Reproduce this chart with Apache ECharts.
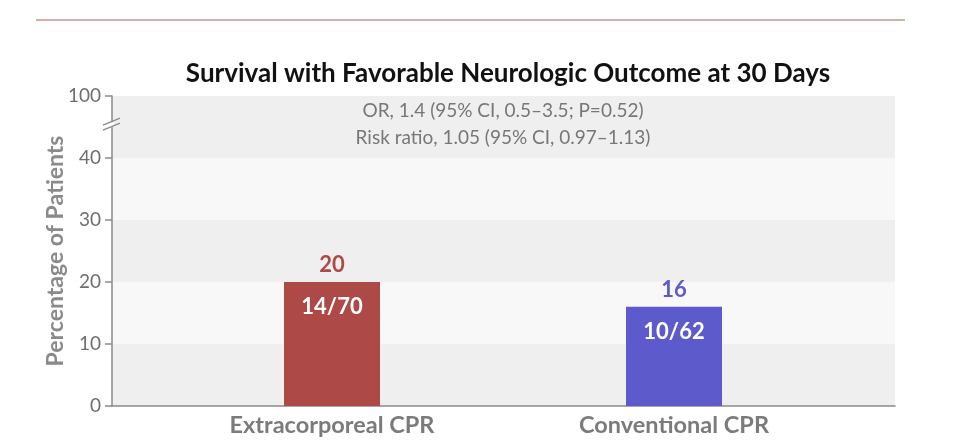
<!DOCTYPE html>
<html lang="en">
<head>
    <meta charset="UTF-8">
    <title>Survival with Favorable Neurologic Outcome at 30 Days</title>
    <script type="text/javascript" src="https://cdn.jsdelivr.net/npm/echarts@6/dist/echarts.min.js"></script>
    <style>
        html, body { margin: 0; padding: 0; background: #ffffff; }
        #container { width: 964px; height: 446px; }
    </style>
</head>
<body>
    <div id="container"></div>
    <script>
        // chart data
        var groups = ['Extracorporeal CPR', 'Conventional CPR'];
        var percents = [20, 16];
        var fractions = ['14/70', '10/62'];
        var barColors = ['#ad4a47', '#5d5bcb'];
        // the top band (40-50 on the drawn scale) stands for the broken part up to 100
        var yTickValues = [0, 10, 20, 30, 40, 50];
        var yTickLabels = ['0', '10', '20', '30', '40', '100'];
        var statLines = ['OR, 1.4 (95% CI, 0.5\u20133.5; P=0.52)', 'Risk ratio, 1.05 (95% CI, 0.97\u20131.13)'];

        var font = 'Lato, "Open Sans", sans-serif';
        var grey = '#8a8a8a';

        var dom = document.getElementById('container');
        var myChart = echarts.init(dom, null, { renderer: 'canvas' });

        var option = {
            animation: false,
            title: {
                text: 'Survival with Favorable Neurologic Outcome at 30 Days',
                left: 503,
                textAlign: 'center',
                top: 56,
                textStyle: { fontFamily: font, fontSize: 26, fontWeight: 'bold', color: '#111' }
            },
            grid: [
                { left: 112, right: 69, top: 96, bottom: 40 },
                { left: 161, right: 119, top: 96, bottom: 40 }
            ],
            xAxis: [
                {
                    gridIndex: 0, type: 'category', data: [''],
                    axisLine: { lineStyle: { color: grey, width: 1.5 } },
                    axisTick: { show: false }, axisLabel: { show: false }
                },
                {
                    gridIndex: 1, type: 'category', data: groups,
                    axisLine: { show: false }, axisTick: { show: false },
                    axisLabel: {
                        margin: 7, fontFamily: font, fontSize: 23.5, fontWeight: 'bold', color: '#7b7b7b'
                    }
                }
            ],
            yAxis: [
                {
                    gridIndex: 0, type: 'value', min: 0, max: 50, interval: 10,
                    name: 'Percentage of Patients', nameLocation: 'middle', nameGap: 45,
                    nameMoveOverlap: false,
                    nameTextStyle: { fontFamily: font, fontSize: 23, fontWeight: 'bold', color: '#8a8a8a' },
                    axisLine: { show: true, lineStyle: { color: grey, width: 1.5 } },
                    axisTick: { show: true, length: 7, lineStyle: { color: grey, width: 1.5 } },
                    axisLabel: {
                        margin: 11, fontFamily: font, fontSize: 19, color: '#6f6f6f',
                        formatter: function (v) { return yTickLabels[yTickValues.indexOf(v)]; }
                    },
                    splitLine: { show: false },
                    splitArea: { show: true, areaStyle: { color: ['#efefef', '#f8f8f8'] } }
                },
                {
                    gridIndex: 1, type: 'value', min: 0, max: 50, interval: 10, show: false,
                    splitLine: { show: false }
                }
            ],
            series: [
                {
                    type: 'bar', xAxisIndex: 1, yAxisIndex: 1, barWidth: 96,
                    data: percents.map(function (v, i) {
                        return { value: v, itemStyle: { color: barColors[i] },
                                 label: { color: barColors[i] } };
                    }),
                    label: {
                        show: true, position: 'top', distance: 6,
                        fontFamily: font, fontSize: 22, fontWeight: 'bold'
                    },
                    z: 3
                },
                {
                    type: 'bar', xAxisIndex: 1, yAxisIndex: 1, barWidth: 96, barGap: '-100%',
                    data: percents,
                    itemStyle: { color: 'rgba(0,0,0,0)' },
                    label: {
                        show: true, position: 'insideTop', distance: 14,
                        fontFamily: font, fontSize: 22, fontWeight: 'bold', color: '#ffffff',
                        formatter: function (p) { return fractions[p.dataIndex]; }
                    },
                    z: 4
                }
            ]
        };
        myChart.setOption(option);

        // stats text, header rule and axis-break marks
        var cx = 503;
        var axisX = 112;
        var breakY = myChart.convertToPixel({ yAxisIndex: 0 }, 45.3);
        myChart.setOption({
            graphic: [
                {
                    type: 'line', shape: { x1: 36, y1: 20, x2: 905, y2: 20 },
                    style: { stroke: '#c9938b', lineWidth: 1.5 }
                },
                {
                    type: 'text', x: cx, y: 111,
                    style: { text: statLines[0], align: 'center', verticalAlign: 'middle',
                             font: '19px ' + font, fill: '#777777' }
                },
                {
                    type: 'text', x: cx, y: 138,
                    style: { text: statLines[1], align: 'center', verticalAlign: 'middle',
                             font: '19px ' + font, fill: '#777777' }
                },
                {
                    type: 'rect', shape: { x: axisX - 2, y: breakY - 3, width: 4, height: 5 },
                    style: { fill: '#ffffff' }, z: 10
                },
                {
                    type: 'line', shape: { x1: axisX - 9, y1: breakY, x2: axisX + 8, y2: breakY - 7 },
                    style: { stroke: grey, lineWidth: 1.3 }, z: 11
                },
                {
                    type: 'line', shape: { x1: axisX - 9, y1: breakY + 5, x2: axisX + 8, y2: breakY - 2 },
                    style: { stroke: grey, lineWidth: 1.3 }, z: 11
                }
            ]
        });
    </script>
</body>
</html>
